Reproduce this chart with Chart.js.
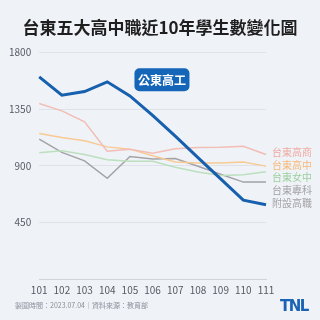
<!DOCTYPE html>
<html>
<head>
<meta charset="utf-8">
<script src="https://cdn.jsdelivr.net/npm/chart.js@4/dist/chart.umd.min.js"></script>
<style>
  html, body { margin: 0; padding: 0; background: #eff2f7; }
  #wrap { position: relative; width: 320px; height: 320px; }
  #title { position: absolute; left: 0; width: 320px; top: 14px; text-align: center; font: bold 17px "Noto Sans CJK TC", sans-serif; color: #1f1f1f; }
  #note { position: absolute; left: 15px; top: 300px; font: 7px "Noto Sans CJK TC", sans-serif; color: #8a8f99; }
  #logo { position: absolute; left: 280px; top: 297px; font: 900 15px "DejaVu Sans", sans-serif; color: #1a62b3; letter-spacing: -1.5px; }
</style>
</head>
<body>
<div id="wrap">
  <canvas id="chart" width="320" height="320"></canvas>
  <div id="title">台東五大高中職近10年學生數變化圖</div>
  <div id="note">製圖時間：2023.07.04｜資料來源：教育部</div>
  <div id="logo">TNL</div>
</div>
<script>
// Data
const years = ['101', '102', '103', '104', '105', '106', '107', '108', '109', '110', '111'];
const yTicks = [0, 450, 900, 1350, 1800];

const gongdong = [1606, 1461, 1490, 1567, 1455, 1300, 1135, 965, 795, 627, 590];   // 公東高工
const shangzhi = [1395, 1336, 1249, 1015, 1032, 1000, 1035, 1045, 1048, 1055, 990]; // 台東高商
const gaozhong = [1157, 1125, 1098, 1050, 1032, 980, 930, 922, 922, 929, 897];      // 台東高中
const nvzhong = [1003, 1020, 990, 948, 935, 935, 888, 850, 822, 828, 852];          // 台東女中
const zhuanke = [1112, 1006, 939, 800, 974, 953, 958, 896, 833, 770, 770];          // 台東專科附設高職

const seriesNames = ['公東高工', '台東高商', '台東高中', '台東女中', '台東專科附設高職'];
const seriesColors = ['#1760ad', '#f2bdb5', '#f8ca94', '#bcdfbe', '#a3a3a6'];
const FONT = '"Noto Sans CJK TC", "Noto Sans", sans-serif';

// labels on the right side and the highlight box
const labelPlugin = {
    id: 'labels',
    afterDatasetsDraw(chart) {
        const ctx = chart.ctx;
        const area = chart.chartArea;
        const yScale = chart.scales.y;
        const xScale = chart.scales.x;

        // blue box for 公東高工
        const bx = xScale.getPixelForValue(4.2);
        const by = yScale.getPixelForValue(1584);
        const bw = 55, bh = 23;
        ctx.save();
        ctx.fillStyle = '#1565b8';
        ctx.beginPath();
        ctx.roundRect(bx, by - bh / 2, bw, bh, 5);
        ctx.fill();
        ctx.fillStyle = '#ffffff';
        ctx.font = 'bold 12px ' + FONT;
        ctx.textAlign = 'center';
        ctx.textBaseline = 'middle';
        ctx.fillText(seriesNames[0], bx + bw / 2, by + 1);

        // right-side series labels
        ctx.font = '10px ' + FONT;
        ctx.textAlign = 'left';
        const lx = area.right + 6;
        let ly = yScale.getPixelForValue(shangzhi[shangzhi.length - 1]) - 2;
        const rows = [
            [seriesNames[1], '#f0aaa2'],
            [seriesNames[2], '#f6b978'],
            [seriesNames[3], '#9ccf9e'],
            ['台東專科', '#a3a3a6'],
            ['附設高職', '#a3a3a6']
        ];
        rows.forEach((r, i) => {
            ctx.fillStyle = r[1];
            ctx.fillText(r[0], lx, ly + i * 12.6);
        });
        ctx.restore();
    }
};

function makeSet(data, i) {
    return {
        label: seriesNames[i],
        data: data,
        borderColor: seriesColors[i],
        borderWidth: i === 0 ? 3 : 1.5,
        pointRadius: 0,
        tension: 0,
        order: i === 0 ? 0 : 1
    };
}

new Chart(document.getElementById('chart'), {
    type: 'line',
    data: {
        labels: years,
        datasets: [
            makeSet(gongdong, 0),
            makeSet(shangzhi, 1),
            makeSet(gaozhong, 2),
            makeSet(nvzhong, 3),
            makeSet(zhuanke, 4)
        ]
    },
    options: {
        responsive: false,
        animation: false,
        layout: { padding: { left: 1, right: 54, top: 52.5, bottom: 19 } },
        plugins: {
            legend: { display: false },
            tooltip: { enabled: false }
        },
        scales: {
            x: {
                offset: false,
                grid: { display: false, drawTicks: false },
                border: { display: true, color: '#cfd3da', width: 1 },
                ticks: { color: '#555a63', font: { family: FONT, size: 10 }, padding: 5, maxRotation: 0 }
            },
            y: {
                min: 0,
                max: 1800,
                afterBuildTicks: axis => { axis.ticks = yTicks.map(v => ({ value: v })); },
                grid: { color: '#dfe2e8', drawTicks: false },
                border: { display: false },
                ticks: {
                    color: '#555a63',
                    font: { family: FONT, size: 10 },
                    padding: 8,
                    callback: v => v === 0 ? '' : v
                }
            }
        }
    },
    plugins: [labelPlugin]
});
</script>
</body>
</html>
